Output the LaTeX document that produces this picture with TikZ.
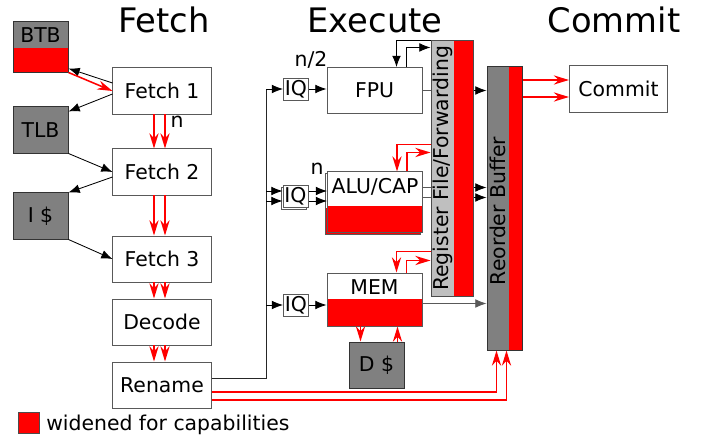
\documentclass[tikz,border=0pt]{standalone}
\usepackage{fontspec}
\setmainfont{DejaVu Sans}
\usetikzlibrary{arrows.meta,calc}

\tikzset{
  stage/.style={draw=black!65, fill=white, line width=.7pt, minimum width=2.45cm, minimum height=1.15cm, inner sep=0pt},
  unit/.style={minimum width=2.375cm},
  store/.style={draw=black!80, fill=gray, line width=.7pt, minimum width=1.375cm, minimum height=1.15cm, inner sep=0pt},
  queue/.style={draw=black!65, fill=white, line width=.7pt, minimum width=.625cm, minimum height=.55cm, inner sep=0pt},
  redpart/.style={path picture={\fill[red] ([yshift=-#1]path picture bounding box.north west) rectangle (path picture bounding box.south east);}},
  redside/.style={path picture={\fill[red] ([xshift=#1]path picture bounding box.north west) rectangle (path picture bounding box.south east);}},
  title/.style={font=\fontsize{24}{29}\selectfont, anchor=base},
  line/.style={line width=.6pt, black!65},
  wire/.style={line width=.6pt, -{Latex[length=2.8mm,width=2.2mm]}},
  capwire/.style={red, line width=1.1pt, -{Stealth[length=3.8mm,width=2.3mm]}},
}

\begin{document}
\begin{tikzpicture}[x=.025cm, y=-.025cm, font=\fontsize{14.5}{17}\selectfont]
  \useasboundingbox (0,0) rectangle (702,438);

  % stage titles
  \node[title] (tfetch) at (164,33) {Fetch};
  \node[title] (texec) at (375,33) {Execute};
  \node[title] (tcommit) at (614,33) {Commit};

  % front end
  \node[store, minimum height=1.25cm, text height=.525cm, text depth=.725cm, redpart=.65cm] (btb) at (40.5,47) {BTB};
  \node[store] (tlb) at (40.5,130) {TLB};
  \node[store] (icache) at (40.5,216) {I \$};
  \node[stage] (f1) at (162,91) {Fetch 1};
  \node[stage] (f2) at (162,172) {Fetch 2};
  \node[stage] (f3) at (162,259) {Fetch 3};
  \node[stage] (dec) at (162,322) {Decode};
  \node[stage] (ren) at (162,385) {Rename};
  \node[anchor=base] (nfetch) at (177,128) {n};

  % execute
  \node[queue] (iq1) at (296,89) {IQ};
  \node[queue] (iq2b) at (293.5,198) {};
  \node[queue] (iq2) at (295.5,196) {IQ};
  \node[queue] (iq3) at (296,305) {IQ};
  \node[stage, unit] (fpu) at (374.5,90.5) {FPU};
  \node[stage, unit, minimum height=1.5cm, text height=.55cm, text depth=.95cm, redpart=.85cm] (alub) at (373,204) {};
  \node[stage, unit, minimum height=1.5cm, text height=.55cm, text depth=.95cm, redpart=.85cm] (alu) at (375,202) {ALU/CAP};
  \node[stage, unit, minimum height=1.325cm, text height=.55cm, text depth=.775cm, redpart=.65cm] (mem) at (374.5,299.5) {MEM};
  \node[store] (dcache) at (376.5,365) {D \$};
  \node[anchor=base] (nfpu) at (311,67) {n/2};
  \node[anchor=base] (nalu) at (317,175) {n};

  \node[draw=black!70, fill=gray!50, line width=.7pt, minimum width=1.05cm, minimum height=6.375cm, redside=.575cm] (rf) at (452,168.5) {};
  \node[rotate=90] (rflabel) at (442.5,168.5) {Register File/Forwarding};
  \node[draw=black!80, fill=gray, line width=.7pt, minimum width=.875cm, minimum height=7.075cm, redside=.55cm] (rob) at (504.5,208.5) {};
  \node[rotate=90] (roblabel) at (497.5,211) {Reorder Buffer};

  % commit
  \node[stage] (commit) at (618.5,89) {Commit};

  % legend
  \node[draw=black!70, fill=red, minimum size=.525cm, inner sep=0pt] (key) at (28.5,422.5) {};
  \node[anchor=base west, inner sep=0pt] (keytext) at (46,430) {widened for capabilities};

  % fetch side
  \draw[wire] ($(f1.west)+(0,-8)$) -- ($(btb.south east)+(0,-4)$);
  \draw[capwire] (btb.south east) -- (f1.west);
  \draw[wire] ($(f1.west)+(0,3)$) -- ($(tlb.north east)+(0,5)$);
  \draw[wire] (tlb.south east) -- (f2.west);
  \draw[wire] ($(f2.west)+(0,5)$) -- (icache.north east);
  \draw[wire] (icache.south east) -- (f3.west);
  \foreach \a/\b in {f1/f2,f2/f3,f3/dec,dec/ren}
    \foreach \dx in {-8,3}
      \draw[capwire] ($(\a.south)+(\dx,0)$) -- ($(\b.north)+(\dx,0)$);

  % issue
  \coordinate (bus) at (266,89);
  \draw[line, black!85] ($(ren.east)+(0,-7)$) -| (bus);
  \draw[wire] (bus) -- (iq1.west);
  \foreach \dy in {-5,5}
    \draw[wire] ($(bus |- iq2.west)+(0,\dy)$) -- ($(iq2.west)+(0,\dy)$);
  \draw[wire] (bus |- iq3.west) -- (iq3.west);
  \draw[wire] (iq1.east) -- (iq1.east -| fpu.west);
  \foreach \dy in {-5,5}
    \draw[wire] ($(iq2.east)+(0,\dy)$) -- ($(iq2.east -| alu.west)+(0,\dy)$);
  \draw[wire] (iq3.east) -- (iq3.east -| mem.west);

  % results to reorder buffer
  \draw[line] (fpu.east) -- (fpu.east -| rf.west);
  \draw[wire] (fpu.east -| rf.east) -- (fpu.east -| rob.west);
  \foreach \dy in {16,26} {
    \draw[line] ($(alu.north east)+(0,\dy)$) -- ($(alu.north east -| rf.west)+(0,\dy)$);
    \draw[wire] ($(alu.north east -| rf.east)+(0,\dy)$) -- ($(alu.north east -| rob.west)+(0,\dy)$);
  }
  \draw[line, -{Latex[length=2.8mm,width=2.2mm]}] ($(mem.east)+(0,4)$) -- ($(mem.east -| rob.west)+(0,4)$);

  % forwarding
  \draw[wire] (rf.north west) -| ($(fpu.north)+(22,0)$);
  \draw[wire] ($(fpu.north)+(32,0)$) |- ($(rf.north west)+(0,7)$);
  \draw[capwire] ($(rf.north west)+(0,104)$) -| ($(alu.north)+(22,0)$);
  \draw[capwire] ($(alu.north)+(32,0)$) |- ($(rf.north west)+(0,112)$);
  \draw[capwire] ($(rf.north west)+(0,211)$) -| ($(mem.north)+(22,0)$);
  \draw[capwire] ($(mem.north)+(32,0)$) |- ($(rf.north west)+(0,220)$);

  % memory
  \coordinate (dsin) at ($(dcache.north)+(-16,0)$);
  \coordinate (dsout) at ($(dcache.north)+(21,0)$);
  \draw[capwire] (mem.south -| dsin) -- (dsin);
  \draw[capwire] (dsout) -- (mem.south -| dsout);

  % rename and commit
  \draw[capwire] ($(ren.east)+(0,7)$) -| ($(rob.south)+(-8,0)$);
  \draw[capwire] ($(ren.east)+(0,15)$) -| ($(rob.south)+(2,0)$);
  \foreach \dy in {-9,8}
    \draw[capwire] ($(rob.east |- commit.west)+(0,\dy)$) -- ($(commit.west)+(0,\dy)$);
\end{tikzpicture}
\end{document}
